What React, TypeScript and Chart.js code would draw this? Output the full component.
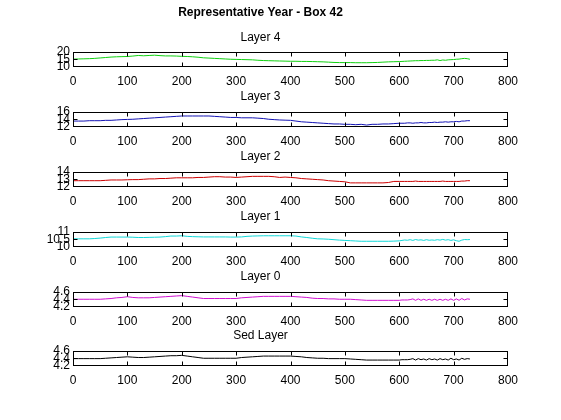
import React, { useEffect, useRef } from "react";
import { Chart, registerables } from "chart.js";

Chart.register(...registerables);

const FONT = "'Liberation Sans', Arial, Helvetica, sans-serif";
Chart.defaults.font.family = FONT;
Chart.defaults.font.size = 12;
Chart.defaults.color = "#000";

const MAIN_TITLE = "Representative Year - Box 42";
const PANEL_TITLES = ["Layer 4", "Layer 3", "Layer 2", "Layer 1", "Layer 0", "Sed Layer"];

const DAYS = [
  0, 10, 20, 30, 40, 50, 60, 70, 80, 90,
  100, 110, 120, 130, 140, 150, 160, 170, 180, 190,
  200, 210, 220, 230, 240, 250, 260, 270, 280, 290,
  300, 310, 320, 330, 340, 350, 360, 370, 380, 390,
  400, 410, 420, 430, 440, 450, 460, 470, 480, 490,
  500, 510, 520, 530, 540, 550, 560, 570, 580, 590,
  600, 605, 610, 615, 620, 625, 630, 635, 640, 645,
  650, 655, 660, 665, 670, 675, 680, 685, 690, 695,
  700, 705, 710, 715, 720, 725, 730,
];

const LAYER4 = [
  15.1, 15.2, 15.3, 15.4, 15.6, 15.9, 16.2, 16.5, 16.7, 16.8,
  16.9, 17.2, 17.6, 17.4, 17.6, 17.8, 17.5, 17.3, 17.3, 17.2,
  17.0, 16.9, 16.7, 16.4, 16.0, 15.8, 15.6, 15.4, 15.2, 15.0,
  14.9, 14.8, 14.7, 14.6, 14.3, 14.1, 14.0, 13.9, 13.8, 13.7,
  13.6, 13.6, 13.5, 13.5, 13.4, 13.3, 13.2, 13.0, 12.8, 12.7,
  12.7, 12.7, 12.6, 12.6, 12.6, 12.7, 12.8, 13.0, 13.2, 13.3,
  13.4, 13.5, 13.6, 13.7, 13.8, 13.9, 14.0, 14.0, 14.1, 14.1,
  14.2, 14.2, 14.3, 14.3, 14.6, 14.1, 14.5, 14.3, 14.6, 14.7,
  14.8, 15.0, 15.1, 15.4, 15.6, 15.4, 15.0,
];

const LAYER3 = [
  13.5, 13.5, 13.5, 13.6, 13.6, 13.6, 13.7, 13.7, 13.8, 13.9,
  13.95, 14.0, 14.1, 14.2, 14.3, 14.4, 14.5, 14.6, 14.7, 14.8,
  14.9, 14.9, 14.9, 14.9, 14.9, 14.9, 14.8, 14.7, 14.6, 14.5,
  14.5, 14.4, 14.4, 14.4, 14.3, 14.2, 14.0, 13.9, 13.8, 13.75,
  13.7, 13.5, 13.3, 13.2, 13.1, 13.0, 12.9, 12.8, 12.7, 12.7,
  12.6, 12.6, 12.5, 12.6, 12.4, 12.6, 12.6, 12.7, 12.7, 12.8,
  12.9, 12.9, 12.9, 13.0, 13.0, 12.9, 13.0, 13.0, 13.1, 13.0,
  13.0, 13.1, 13.1, 13.2, 13.1, 13.2, 13.2, 13.3, 13.2, 13.3,
  13.3, 13.4, 13.3, 13.5, 13.5, 13.6, 13.6,
];

const LAYER2 = [
  12.8, 12.8, 12.8, 12.8, 12.8, 12.8, 12.85, 12.9, 12.9, 12.9,
  12.93, 12.95, 12.95, 13.0, 13.05, 13.05, 13.1, 13.1, 13.15, 13.2,
  13.2, 13.2, 13.2, 13.25, 13.25, 13.3, 13.35, 13.35, 13.3, 13.3,
  13.25, 13.3, 13.35, 13.4, 13.4, 13.4, 13.4, 13.35, 13.25, 13.3,
  13.25, 13.2, 13.1, 13.05, 13.0, 12.95, 12.9, 12.8, 12.75, 12.7,
  12.65, 12.5, 12.5, 12.5, 12.5, 12.5, 12.5, 12.5, 12.55, 12.7,
  12.7, 12.7, 12.7, 12.7, 12.7, 12.7, 12.75, 12.7, 12.7, 12.7,
  12.7, 12.7, 12.7, 12.7, 12.7, 12.7, 12.75, 12.7, 12.7, 12.7,
  12.7, 12.7, 12.7, 12.75, 12.75, 12.8, 12.8,
];

const LAYER1 = [
  10.53, 10.53, 10.53, 10.53, 10.55, 10.58, 10.62, 10.65, 10.65, 10.65,
  10.65, 10.64, 10.62, 10.62, 10.63, 10.64, 10.65, 10.68, 10.72, 10.72,
  10.74, 10.7, 10.68, 10.67, 10.66, 10.66, 10.66, 10.66, 10.66, 10.65,
  10.65, 10.66, 10.7, 10.72, 10.73, 10.74, 10.74, 10.74, 10.74, 10.74,
  10.74, 10.72, 10.66, 10.62, 10.57, 10.53, 10.52, 10.5, 10.47, 10.44,
  10.42, 10.4, 10.38, 10.36, 10.36, 10.36, 10.36, 10.36, 10.36, 10.37,
  10.39, 10.42, 10.45, 10.43, 10.47, 10.42, 10.48, 10.44, 10.46, 10.42,
  10.47, 10.43, 10.45, 10.43, 10.47, 10.44, 10.49, 10.44, 10.47, 10.42,
  10.46, 10.4, 10.36, 10.44, 10.48, 10.47, 10.48,
];

const LAYER0 = [
  4.40, 4.40, 4.40, 4.40, 4.40, 4.40, 4.41, 4.42, 4.44, 4.45,
  4.47, 4.45, 4.44, 4.44, 4.44, 4.45, 4.46, 4.47, 4.48, 4.49,
  4.50, 4.48, 4.46, 4.44, 4.42, 4.42, 4.42, 4.42, 4.42, 4.42,
  4.42, 4.44, 4.45, 4.46, 4.47, 4.48, 4.48, 4.48, 4.48, 4.48,
  4.48, 4.47, 4.46, 4.45, 4.43, 4.42, 4.42, 4.41, 4.41, 4.40,
  4.40, 4.40, 4.39, 4.38, 4.37, 4.37, 4.37, 4.37, 4.37, 4.37,
  4.37, 4.38, 4.38, 4.38, 4.39, 4.41, 4.37, 4.41, 4.37, 4.40,
  4.37, 4.40, 4.37, 4.40, 4.37, 4.40, 4.37, 4.40, 4.37, 4.41,
  4.37, 4.41, 4.37, 4.42, 4.38, 4.41, 4.40,
];

const SED = [
  4.39, 4.39, 4.39, 4.39, 4.39, 4.39, 4.40, 4.41, 4.42, 4.43,
  4.44, 4.43, 4.42, 4.42, 4.43, 4.44, 4.45, 4.46, 4.47, 4.47,
  4.48, 4.46, 4.44, 4.42, 4.40, 4.40, 4.40, 4.40, 4.40, 4.40,
  4.40, 4.42, 4.43, 4.44, 4.45, 4.46, 4.46, 4.46, 4.46, 4.46,
  4.46, 4.45, 4.44, 4.42, 4.41, 4.40, 4.40, 4.39, 4.39, 4.39,
  4.39, 4.38, 4.37, 4.36, 4.35, 4.35, 4.35, 4.35, 4.35, 4.35,
  4.35, 4.36, 4.36, 4.36, 4.37, 4.39, 4.35, 4.39, 4.36, 4.38,
  4.35, 4.39, 4.36, 4.38, 4.35, 4.39, 4.36, 4.38, 4.35, 4.40,
  4.36, 4.38, 4.35, 4.40, 4.37, 4.39, 4.38,
];

const SERIES = [LAYER4, LAYER3, LAYER2, LAYER1, LAYER0, SED];

const X_TICKS = [0, 100, 200, 300, 400, 500, 600, 700, 800];
const Y_TICKS = [
  [10, 15, 20],
  [12, 14, 16],
  [12, 13, 14],
  [10, 10.5, 11],
  [4.2, 4.4, 4.6],
  [4.2, 4.4, 4.6],
];
const Y_TICK_LABELS = [
  ["10", "15", "20"],
  ["12", "14", "16"],
  ["12", "13", "14"],
  ["10", "10.5", "11"],
  ["4.2", "4.4", "4.6"],
  ["4.2", "4.4", "4.6"],
];

// styles / layout
const COLORS = ["#10d010", "#1414b4", "#cc0000", "#10d8d8", "#d010d0", "#000000"];
const BOX_TOPS = [52, 112, 172, 232, 292, 351];
const BOX_H = 14.5;
const W = 561;
const H = 420;
const BOX_LEFT = 73;
const BOX_RIGHT = 508;
const Y_AXIS_W = 60;
const X_AXIS_H = 22;
const TICK_LEN = 4;

const boxPlugin = {
  id: "matlabBox",
  afterDatasetsDraw(chart: any) {
    const { ctx, chartArea, scales } = chart;
    const l = Math.round(chartArea.left) + 0.5;
    const r = Math.round(chartArea.right) - 0.5;
    const t = Math.round(chartArea.top) + 0.5;
    const b = Math.round(chartArea.bottom) - 0.5;
    ctx.save();
    ctx.strokeStyle = "#000";
    ctx.lineWidth = 1;
    ctx.strokeRect(l, t, r - l, b - t);
    ctx.beginPath();
    const xmin = scales.x.min;
    const xmax = scales.x.max;
    for (const v of X_TICKS) {
      if (v <= xmin || v >= xmax) continue;
      const px = Math.round(scales.x.getPixelForValue(v)) + 0.5;
      ctx.moveTo(px, b);
      ctx.lineTo(px, b - TICK_LEN);
      ctx.moveTo(px, t);
      ctx.lineTo(px, t + TICK_LEN);
    }
    const ymin = scales.y.min;
    const ymax = scales.y.max;
    for (const tk of scales.y.ticks) {
      if (tk.value <= ymin + 1e-9 || tk.value >= ymax - 1e-9) continue;
      const py = Math.round(scales.y.getPixelForValue(tk.value)) + 0.5;
      ctx.moveTo(l, py);
      ctx.lineTo(l + TICK_LEN, py);
      ctx.moveTo(r, py);
      ctx.lineTo(r - TICK_LEN, py);
    }
    ctx.stroke();
    ctx.restore();
  },
};

function buildConfig(i: number): any {
  const yTicks = Y_TICKS[i];
  const yLabels = Y_TICK_LABELS[i];
  const top = BOX_TOPS[i];
  const bottom = top + BOX_H;
  const first = i === 0;
  return {
    type: "line",
    data: {
      datasets: [
        {
          data: DAYS.map((d, k) => ({ x: d, y: SERIES[i][k] })),
          borderColor: COLORS[i],
          borderWidth: 1,
          pointRadius: 0,
          tension: 0,
          fill: false,
        },
      ],
    },
    options: {
      responsive: false,
      animation: false,
      devicePixelRatio: 1,
      layout: {
        padding: {
          left: BOX_LEFT - Y_AXIS_W,
          right: W - BOX_RIGHT,
          top: first ? 5.3 : top - 22.7,
          bottom: H - bottom - X_AXIS_H,
        },
      },
      plugins: {
        legend: { display: false },
        tooltip: { enabled: false },
        title: first
          ? {
              display: true,
              text: MAIN_TITLE,
              color: "#000",
              font: { family: FONT, size: 12, weight: "bold" },
              padding: { top: 0, bottom: 10.6 },
            }
          : {
              display: true,
              text: PANEL_TITLES[i],
              color: "#000",
              font: { family: FONT, size: 12, weight: "normal" },
              padding: { top: 0, bottom: 8.3 },
            },
        subtitle: first
          ? {
              display: true,
              text: PANEL_TITLES[i],
              color: "#000",
              font: { family: FONT, size: 12, weight: "normal" },
              padding: { top: 0, bottom: 7.3 },
            }
          : { display: false },
      },
      scales: {
        x: {
          type: "linear",
          min: 0,
          max: 800,
          grid: { display: false, drawTicks: false },
          border: { display: false },
          afterBuildTicks: (s: any) => {
            s.ticks = X_TICKS.map((v) => ({ value: v }));
          },
          afterFit: (s: any) => {
            s.height = X_AXIS_H;
          },
          ticks: {
            color: "#000",
            padding: 8,
            maxRotation: 0,
            autoSkip: false,
            font: { family: FONT, size: 12 },
            callback: (v: any) => String(v),
          },
        },
        y: {
          type: "linear",
          min: yTicks[0],
          max: yTicks[yTicks.length - 1],
          grid: { display: false, drawTicks: false },
          border: { display: false },
          afterBuildTicks: (s: any) => {
            s.ticks = yTicks.map((v) => ({ value: v }));
          },
          afterFit: (s: any) => {
            s.width = Y_AXIS_W;
          },
          ticks: {
            color: "#000",
            padding: 3,
            autoSkip: false,
            font: { family: FONT, size: 12 },
            callback: (_v: any, idx: number) => yLabels[idx],
          },
        },
      },
    },
    plugins: [boxPlugin],
  };
}

function Panel({ index }: { index: number }) {
  const ref = useRef<HTMLCanvasElement | null>(null);
  useEffect(() => {
    if (!ref.current) return;
    const chart = new Chart(ref.current, buildConfig(index));
    return () => chart.destroy();
  }, [index]);
  return (
    <canvas
      ref={ref}
      width={W}
      height={H}
      style={{ position: "absolute", left: 0, top: 0, width: W, height: H }}
    />
  );
}

export default function App() {
  return (
    <div
      style={{
        position: "absolute",
        left: 0,
        top: 0,
        width: W,
        height: H,
        background: "#fff",
        overflow: "hidden",
      }}
    >
      {SERIES.map((_, i) => (
        <Panel key={i} index={i} />
      ))}
    </div>
  );
}
